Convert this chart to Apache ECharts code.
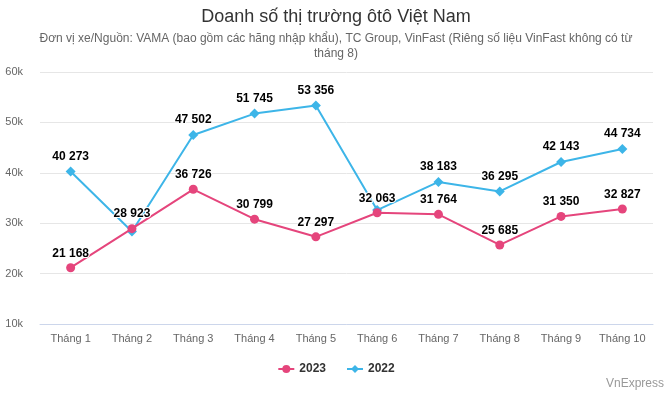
<!DOCTYPE html>
<html><head><meta charset="utf-8">
<script src="https://cdn.jsdelivr.net/npm/echarts@6/dist/echarts.min.js"></script>
<style>html,body{margin:0;padding:0;background:#fff}#c{width:672px;height:393px}</style>
</head><body><div id="c"></div>
<script>
const categories = ['Tháng 1','Tháng 2','Tháng 3','Tháng 4','Tháng 5','Tháng 6','Tháng 7','Tháng 8','Tháng 9','Tháng 10'];
const sales2023 = [21168, 28923, 36726, 30799, 27297, 32063, 31764, 25685, 31350, 32827];
const sales2022 = [40273, 28350, 47502, 51745, 53356, 32600, 38183, 36295, 42143, 44734];
const hidden2022 = [1, 5];
const yTicks = { min: 10000, max: 60000, interval: 10000 };

const fmt = v => String(v).replace(/\B(?=(\d{3})+(?!\d))/g, ' ');
const FONT = 'Liberation Sans, Arial, sans-serif';
const labelStyle = { show: true, position: 'top', distance: 4, fontFamily: FONT, fontSize: 12, fontWeight: 'bold', color: '#000', textBorderColor: '#fff', textBorderWidth: 2, formatter: p => fmt(p.value) };

const chart = echarts.init(document.getElementById('c'));
chart.setOption({
  animation: false,
  textStyle: { fontFamily: FONT },
  title: {
    text: 'Doanh số thị trường ôtô Việt Nam',
    subtext: 'Đơn vị xe/Nguồn: VAMA (bao gồm các hãng nhập khẩu), TC Group, VinFast (Riêng số liệu VinFast không có từ\ntháng 8)',
    left: 'center', top: 3, itemGap: 5,
    textStyle: { fontFamily: FONT, fontSize: 18, fontWeight: 'normal', color: '#333' },
    subtextStyle: { fontFamily: FONT, fontSize: 12, color: '#666', lineHeight: 15, align: 'center' }
  },
  graphic: [{ type: 'text', right: 8, top: 378, style: { text: 'VnExpress', fontFamily: FONT, fontSize: 12, fill: '#999' } }],
  legend: {
    bottom: 13, left: 'center', itemGap: 20, itemWidth: 16, itemHeight: 10,
    textStyle: { fontFamily: FONT, fontSize: 12, fontWeight: 'bold', color: '#333' },
    data: ['2023', '2022']
  },
  grid: { left: 40, right: 19, top: 72, bottom: 69 },
  xAxis: {
    type: 'category', data: categories, boundaryGap: true,
    axisLine: { lineStyle: { color: '#ccd6eb' } },
    axisTick: { show: false },
    axisLabel: { color: '#666', fontSize: 11, margin: 9, fontFamily: FONT }
  },
  yAxis: {
    type: 'value', min: yTicks.min, max: yTicks.max, interval: yTicks.interval,
    axisLine: { show: false }, axisTick: { show: false },
    splitLine: { lineStyle: { color: '#e6e6e6' } },
    axisLabel: { color: '#666', fontSize: 11, margin: 17, fontFamily: FONT, formatter: v => (v / 1000) + 'k' }
  },
  series: [
    { name: '2023', type: 'line', data: sales2023, color: '#e5457c', symbol: 'circle', symbolSize: 9,
      lineStyle: { width: 2 }, label: labelStyle, z: 3 },
    { name: '2022', type: 'line', color: '#3db5e8', symbol: 'diamond', symbolSize: 10,
      data: sales2022.map((v, i) => hidden2022.includes(i) ? { value: v, label: { show: false } } : v),
      lineStyle: { width: 2 }, label: labelStyle, z: 2 }
  ]
});
</script></body></html>
